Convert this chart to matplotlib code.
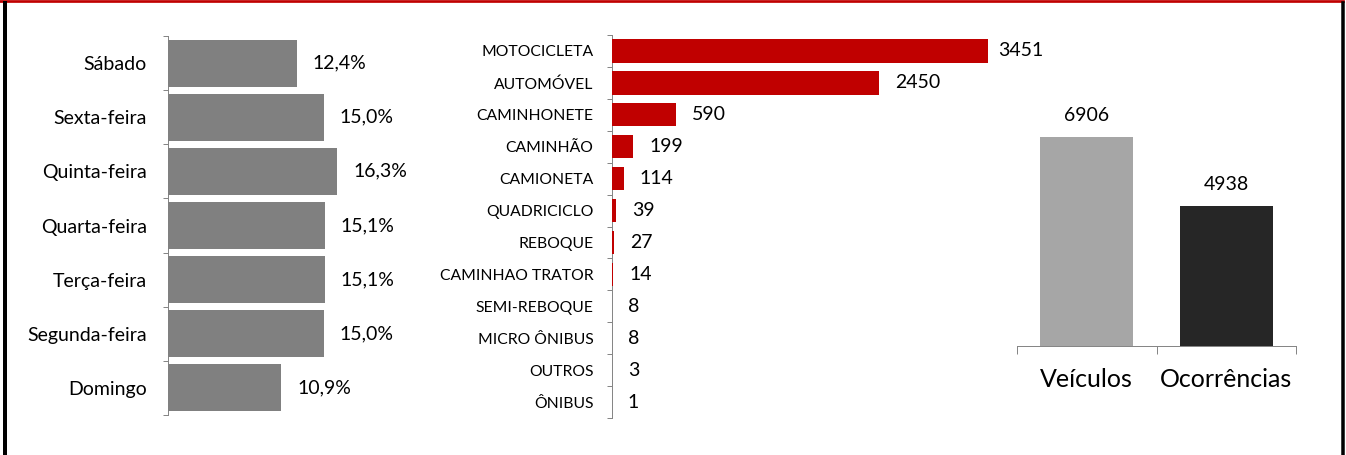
import matplotlib
matplotlib.use('Agg')
import matplotlib.pyplot as plt
from matplotlib.lines import Line2D
import numpy as np

plt.rcParams['font.family'] = ['Lato', 'DejaVu Sans']

# ---- data ----
dias = ['Sábado', 'Sexta-feira', 'Quinta-feira', 'Quarta-feira',
        'Terça-feira', 'Segunda-feira', 'Domingo']
dias_pct = [12.4, 15.0, 16.3, 15.1, 15.1, 15.0, 10.9]

tipos = ['MOTOCICLETA', 'AUTOMÓVEL', 'CAMINHONETE', 'CAMINHÃO', 'CAMIONETA',
         'QUADRICICLO', 'REBOQUE', 'CAMINHAO TRATOR', 'SEMI-REBOQUE',
         'MICRO ÔNIBUS', 'OUTROS', 'ÔNIBUS']
tipos_qtd = [3451, 2450, 590, 199, 114, 39, 27, 14, 8, 8, 3, 1]

totais_cat = ['Veículos', 'Ocorrências']
totais_val = [6906, 4938]

# ---- layout helpers ----
W, H = 1346, 455
PX = 0.72  # points per pixel at 100 dpi
fig = plt.figure(figsize=(W / 100, H / 100), dpi=100)

def box(x0, y0, x1, y1):
    return [x0 / W, 1 - y1 / H, (x1 - x0) / W, (y1 - y0) / H]

AXC = '#868686'
TXT = '#000000'

def style_hbar(ax, n, labels, pad_px, fs):
    for s in ['top', 'right', 'bottom']:
        ax.spines[s].set_visible(False)
    ax.spines['left'].set_color(AXC)
    ax.spines['left'].set_linewidth(1.0 * PX)
    ax.set_yticks(range(n))
    ax.set_yticklabels(labels, fontsize=fs, color=TXT)
    ax.set_yticks(np.arange(-0.5, n, 1.0), minor=True)
    ax.tick_params(axis='y', which='major', length=0, pad=pad_px * PX)
    ax.tick_params(axis='y', which='minor', length=5 * PX, width=1.0 * PX,
                   color=AXC, direction='out')
    ax.set_xticks([])
    ax.set_ylim(n - 0.5, -0.5)

# ---- left: days ----
axL = fig.add_axes(box(168, 36, 168 + 18 * 10.39, 415))
yL = np.arange(len(dias))
axL.barh(yL, dias_pct, height=0.87, color='#808080', zorder=3)
axL.set_xlim(0, 18)
style_hbar(axL, len(dias), dias, 21, 14)
for i, v in enumerate(dias_pct):
    axL.annotate(f'{v:.1f}%'.replace('.', ','), xy=(v, i), xytext=(16 * PX, 0),
                 textcoords='offset points', va='center', ha='left',
                 fontsize=14, color=TXT)

# ---- middle: vehicle types ----
axM = fig.add_axes(box(611.5, 35, 611.5 + 3800 * 0.1092, 418))
yM = np.arange(len(tipos))
axM.barh(yM, tipos_qtd, height=0.73, color='#C00000', zorder=3)
axM.set_xlim(0, 3800)
style_hbar(axM, len(tipos), tipos, 18, 11.3)
for i, v in enumerate(tipos_qtd):
    off = 10 if v > 3000 else 16
    axM.annotate(f'{v}', xy=(v, i), xytext=(off * PX, 0),
                 textcoords='offset points', va='center', ha='left',
                 fontsize=14, color=TXT)

# ---- right: totals ----
axR = fig.add_axes(box(1017, 346 - 7000 * 0.03544, 1296, 346))
xR = np.arange(len(totais_cat))
axR.bar(xR, totais_val, width=0.667, color=['#A6A6A6', '#262626'], zorder=3)
axR.set_ylim(1000, 8000)
axR.set_xlim(-0.5, len(totais_cat) - 0.5)
for s in ['top', 'right', 'left']:
    axR.spines[s].set_visible(False)
axR.spines['bottom'].set_color(AXC)
axR.spines['bottom'].set_linewidth(1.0 * PX)
axR.set_yticks([])
axR.set_xticks(xR)
axR.set_xticklabels(totais_cat, fontsize=18, color=TXT)
axR.set_xticks(np.arange(-0.5, len(totais_cat), 1.0), minor=True)
axR.tick_params(axis='x', which='major', length=0, pad=16)
axR.tick_params(axis='x', which='minor', length=8 * PX, width=1.0 * PX,
                color=AXC, direction='out')
for i, v in enumerate(totais_val):
    axR.annotate(f'{v}', xy=(i, v), xytext=(0, 16 * PX),
                 textcoords='offset points', va='baseline', ha='center',
                 fontsize=14, color=TXT)

# ---- frame ----
fig.add_artist(Line2D([0, 1342.5 / W], [1 - 1.3 / H, 1 - 1.3 / H],
                      transform=fig.transFigure, color='#C00000', lw=2.7 * PX))
fig.add_artist(Line2D([5.3 / W, 5.3 / W], [0, 1 - 2.6 / H],
                      transform=fig.transFigure, color='black', lw=4 * PX))
fig.add_artist(Line2D([1343.3 / W, 1343.3 / W], [0, 1 - 2.6 / H],
                      transform=fig.transFigure, color='black', lw=3.5 * PX))

fig.savefig('out.png', dpi=100, facecolor='white')
